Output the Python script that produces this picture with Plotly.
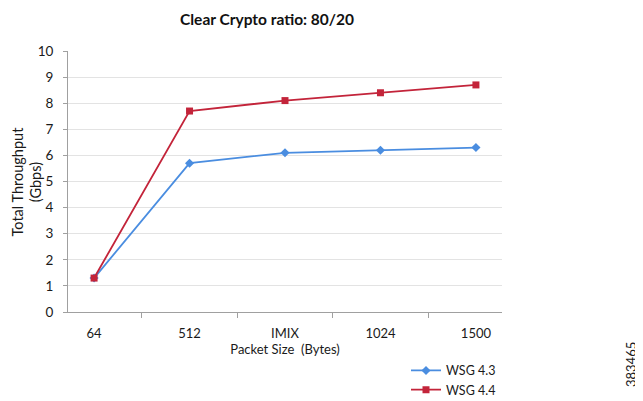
import plotly.graph_objects as go

categories = ["64", "512", "IMIX", "1024", "1500"]
wsg43 = [1.3, 5.7, 6.1, 6.2, 6.3]
wsg44 = [1.3, 7.7, 8.1, 8.4, 8.7]
y_ticks = list(range(0, 11))

font_family = "Lato, Open Sans, sans-serif"

# page body has an 8px margin, so the figure is placed at (8, 8)
W, H = 635, 393
L, R, T, B = 60, 141, 43, 89
PW, PH = W - L - R, H - T - B

fig = go.Figure()
fig.add_trace(go.Scatter(
    x=categories, y=wsg43, name="WSG 4.3", mode="lines+markers",
    line=dict(color="#4A8DE0", width=1.8),
    marker=dict(symbol="diamond", size=7, color="#4A8DE0"),
))
fig.add_trace(go.Scatter(
    x=categories, y=wsg44, name="WSG 4.4", mode="lines+markers",
    line=dict(color="#C3243A", width=1.8),
    marker=dict(symbol="square", size=7, color="#C3243A"),
))

fig.update_layout(
    width=W, height=H,
    margin=dict(l=L, r=R, t=T, b=B, autoexpand=False),
    paper_bgcolor="white", plot_bgcolor="white",
    font=dict(family=font_family, size=13, color="#1A1A1A"),
    title=dict(text="<b>Clear Crypto ratio: 80/20</b>", x=259 / W, xanchor="center",
               y=1 - 12 / H, yanchor="middle", font=dict(size=15.5, color="#111111")),
    showlegend=True,
    legend=dict(x=(398 - L) / PW, y=-0.168, xanchor="left", yanchor="top",
                font=dict(size=12.5, color="#1A1A1A"), bgcolor="rgba(0,0,0,0)",
                tracegroupgap=0, itemwidth=30),
    xaxis=dict(
        type="category", showgrid=False, showline=True, linecolor="#A0A0A0", linewidth=1,
        ticks="outside", tickson="boundaries", ticklen=5, tickcolor="#A0A0A0",
        ticklabelstandoff=9,
        title=dict(text="Packet Size  (Bytes)", standoff=3, font=dict(size=13)),
        tickfont=dict(size=13),
    ),
    yaxis=dict(
        range=[0, 10], tickvals=y_ticks, showgrid=True, gridcolor="#E3E3E3", gridwidth=1,
        showline=True, linecolor="#A0A0A0", linewidth=1, zeroline=False,
        ticks="outside", ticklen=4, tickcolor="#A0A0A0",
        ticklabelstandoff=7,
        tickfont=dict(size=13.5),
    ),
)

fig.add_annotation(
    text="Total Throughput<br>(Gbps)", xref="paper", yref="paper",
    x=(18 - L) / PW, y=0.5, showarrow=False, textangle=-90,
    font=dict(size=14.5, color="#1A1A1A"), xanchor="center", yanchor="middle",
)

fig.add_annotation(
    text="383465", xref="paper", yref="paper", x=(623 - L) / PW, y=(304 - 357) / PH,
    showarrow=False, textangle=-90, font=dict(size=13, color="#1A1A1A"),
    xanchor="center", yanchor="middle",
)

fig.write_html("out.html")
